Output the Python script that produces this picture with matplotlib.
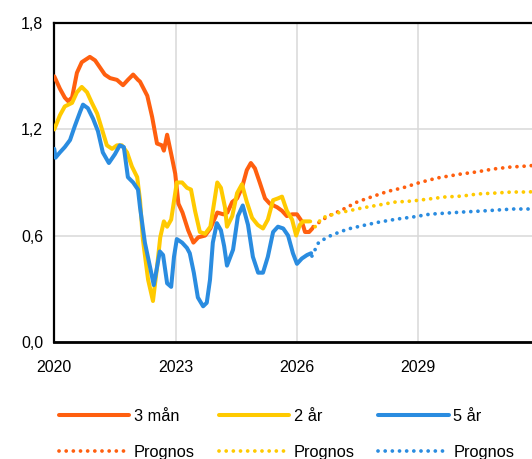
import matplotlib
matplotlib.use("Agg")
import matplotlib.pyplot as plt
from matplotlib.ticker import FuncFormatter

plt.rcParams['font.family'] = ['Liberation Sans', 'DejaVu Sans']

# historical series (decimal year, percent)
t_3m = [2020.00, 2020.14, 2020.26, 2020.34, 2020.44, 2020.56, 2020.68, 2020.88, 2021.01, 2021.13,
        2021.25, 2021.38, 2021.55, 2021.70, 2021.82, 2021.95, 2022.07, 2022.12, 2022.30, 2022.42,
        2022.54, 2022.66, 2022.71, 2022.79, 2022.91, 2022.99, 2023.07, 2023.17, 2023.31, 2023.44,
        2023.56, 2023.73, 2023.86, 2024.03, 2024.18, 2024.28, 2024.40, 2024.52, 2024.64, 2024.76,
        2024.86, 2024.96, 2025.08, 2025.21, 2025.33, 2025.51, 2025.63, 2025.75, 2025.88, 2026.00,
        2026.12, 2026.20, 2026.30, 2026.38]
r_3m = [1.50, 1.43, 1.38, 1.36, 1.38, 1.52, 1.58, 1.61, 1.59, 1.55,
        1.51, 1.49, 1.48, 1.45, 1.48, 1.51, 1.48, 1.47, 1.39, 1.27,
        1.12, 1.11, 1.08, 1.17, 1.04, 0.95, 0.78, 0.73, 0.63, 0.56,
        0.59, 0.60, 0.64, 0.73, 0.72, 0.73, 0.79, 0.81, 0.87, 0.97,
        1.01, 0.98, 0.90, 0.81, 0.78, 0.76, 0.74, 0.71, 0.72, 0.72,
        0.68, 0.62, 0.62, 0.64]

t_2y = [2020.00, 2020.14, 2020.26, 2020.44, 2020.56, 2020.68, 2020.81, 2020.93, 2021.06, 2021.18,
        2021.30, 2021.43, 2021.55, 2021.67, 2021.80, 2021.92, 2022.05, 2022.12, 2022.19, 2022.32,
        2022.44, 2022.54, 2022.62, 2022.71, 2022.79, 2022.89, 2023.03, 2023.16, 2023.28, 2023.38,
        2023.48, 2023.60, 2023.73, 2023.86, 2024.03, 2024.12, 2024.22, 2024.27, 2024.40, 2024.52,
        2024.64, 2024.76, 2024.89, 2025.03, 2025.16, 2025.28, 2025.41, 2025.53, 2025.63, 2025.75,
        2025.88, 2025.98, 2026.07, 2026.15, 2026.30]
r_2y = [1.20, 1.28, 1.33, 1.35, 1.41, 1.44, 1.41, 1.35, 1.29, 1.20,
        1.11, 1.09, 1.11, 1.11, 1.07, 0.99, 0.93, 0.80, 0.58, 0.35,
        0.23, 0.42, 0.59, 0.68, 0.65, 0.69, 0.90, 0.90, 0.87, 0.86,
        0.74, 0.62, 0.61, 0.65, 0.90, 0.87, 0.76, 0.65, 0.71, 0.84,
        0.89, 0.79, 0.70, 0.66, 0.64, 0.69, 0.80, 0.81, 0.82, 0.74,
        0.69, 0.60, 0.66, 0.68, 0.68]

t_5y = [2020.00, 2020.03, 2020.14, 2020.26, 2020.39, 2020.51, 2020.64, 2020.71, 2020.83, 2020.96,
        2021.08, 2021.20, 2021.35, 2021.50, 2021.62, 2021.72, 2021.82, 2021.95, 2022.07, 2022.12,
        2022.24, 2022.37, 2022.46, 2022.54, 2022.61, 2022.69, 2022.79, 2022.89, 2022.96, 2023.03,
        2023.16, 2023.28, 2023.35, 2023.45, 2023.55, 2023.68, 2023.77, 2023.85, 2023.92, 2024.02,
        2024.12, 2024.20, 2024.27, 2024.42, 2024.54, 2024.66, 2024.79, 2024.91, 2025.04, 2025.16,
        2025.28, 2025.41, 2025.53, 2025.66, 2025.78, 2025.90, 2026.00, 2026.12, 2026.25, 2026.35]
r_5y = [1.09, 1.04, 1.07, 1.10, 1.14, 1.22, 1.30, 1.34, 1.32, 1.26,
        1.19, 1.07, 1.01, 1.06, 1.11, 1.10, 0.93, 0.90, 0.86, 0.76,
        0.56, 0.42, 0.32, 0.42, 0.51, 0.49, 0.33, 0.31, 0.48, 0.58,
        0.56, 0.53, 0.50, 0.39, 0.25, 0.20, 0.22, 0.35, 0.56, 0.67,
        0.63, 0.54, 0.43, 0.52, 0.71, 0.77, 0.66, 0.48, 0.39, 0.39,
        0.48, 0.62, 0.65, 0.64, 0.60, 0.50, 0.44, 0.47, 0.49, 0.50]

# forecasts
tf_3m = [2026.40, 2026.58, 2026.77, 2027.07, 2027.49, 2027.86, 2028.25, 2028.62, 2029.04, 2029.46,
         2030.03, 2030.45, 2030.85, 2031.27, 2031.69, 2032.00]
rf_3m = [0.65, 0.68, 0.71, 0.74, 0.79, 0.82, 0.85, 0.87, 0.90, 0.925,
         0.947, 0.96, 0.976, 0.987, 0.993, 1.00]

tf_2y = [2026.33, 2026.45, 2026.62, 2026.99, 2027.24, 2027.61, 2028.01, 2028.42, 2028.84, 2029.24,
         2029.66, 2030.08, 2030.47, 2030.89, 2031.31, 2031.69, 2032.00]
rf_2y = [0.68, 0.65, 0.70, 0.727, 0.738, 0.756, 0.772, 0.789, 0.795, 0.806,
         0.818, 0.823, 0.835, 0.840, 0.846, 0.846, 0.85]

tf_5y = [2026.37, 2026.54, 2026.86, 2027.26, 2027.68, 2028.05, 2028.47, 2028.87, 2029.29, 2029.71,
         2030.10, 2030.52, 2030.94, 2031.34, 2031.74, 2032.00]
rf_5y = [0.484, 0.563, 0.603, 0.637, 0.659, 0.677, 0.693, 0.705, 0.721, 0.727,
         0.733, 0.738, 0.744, 0.750, 0.750, 0.752]

c_orange = '#FF5F0F'
c_yellow = '#FFCA00'
c_blue = '#2A8CE0'

fig = plt.figure(figsize=(5.32, 4.59), dpi=100)
ax = fig.add_axes([0.102, 0.2556, 0.9124, 0.6937])

lw = 2.9
dots = (0, (0.01, 1.9))
l_3m, = ax.plot(t_3m, r_3m, color=c_orange, lw=lw, solid_capstyle='round', label='3 mån', zorder=3)
l_2y, = ax.plot(t_2y, r_2y, color=c_yellow, lw=lw, solid_capstyle='round', label='2 år', zorder=3)
l_5y, = ax.plot(t_5y, r_5y, color=c_blue, lw=lw, solid_capstyle='round', label='5 år', zorder=3)
p_3m, = ax.plot(tf_3m, rf_3m, color=c_orange, lw=2.7, ls=dots, dash_capstyle='round', label='Prognos', zorder=3)
p_2y, = ax.plot(tf_2y, rf_2y, color=c_yellow, lw=2.7, ls=dots, dash_capstyle='round', label='Prognos', zorder=3)
p_5y, = ax.plot(tf_5y, rf_5y, color=c_blue, lw=2.7, ls=dots, dash_capstyle='round', label='Prognos', zorder=3)

ax.set_xlim(2020, 2032)
ax.set_ylim(0, 1.8)
ax.set_xticks([2020, 2023, 2026, 2029])
ax.set_yticks([0, 0.6, 1.2, 1.8])
ax.yaxis.set_major_formatter(FuncFormatter(lambda v, p: f"{v:.1f}".replace('.', ',')))
ax.xaxis.set_major_formatter(FuncFormatter(lambda v, p: f"{int(v)}"))
ax.tick_params(length=0, labelsize=11.5, colors='black', pad=8)
ax.tick_params(axis='x', pad=13)
ax.grid(True, color='#D9D9D9', lw=1.1)
ax.set_axisbelow(True)
for s in ['left', 'top']:
    ax.spines[s].set_linewidth(1.6)
ax.spines['bottom'].set_linewidth(2.0)
ax.spines['right'].set_visible(False)

# column-major fill: lines on the first row, forecasts on the second
handles = [l_3m, p_3m, l_2y, p_2y, l_5y, p_5y]
fig.legend(handles, [h.get_label() for h in handles], ncol=3, loc='upper left',
           bbox_to_anchor=(0.098, 0.123), frameon=False, fontsize=11.8,
           handlelength=4.3, handletextpad=0.28, columnspacing=1.45,
           labelspacing=1.25, borderaxespad=0)

fig.savefig('out.png', dpi=100)
